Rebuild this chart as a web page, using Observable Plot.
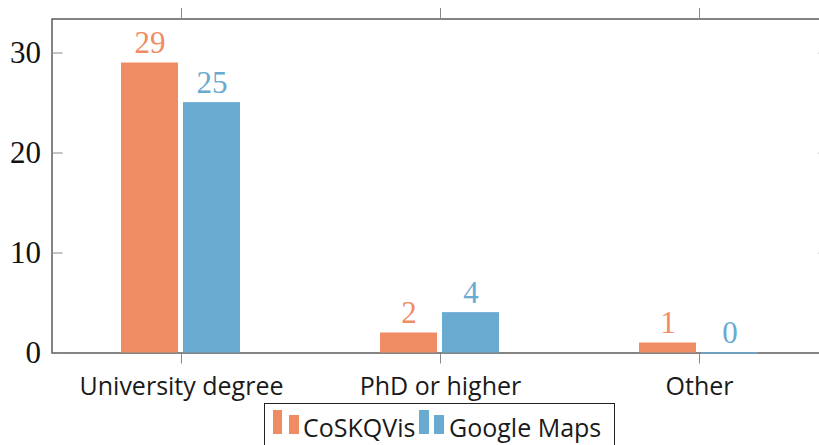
<!DOCTYPE html>
<html>
<head>
<meta charset="utf-8">
<script src="https://cdn.jsdelivr.net/npm/d3@7"></script>
<script src="https://cdn.jsdelivr.net/npm/@observablehq/plot@0.6"></script>
<style>
  html, body { margin: 0; padding: 0; background: #fff; overflow: hidden; }
  #wrap { position: relative; width: 819px; height: 445px; }
  #legend { position: absolute; left: 264px; top: 403px; width: 351px; height: 60px;
            border: 1px solid #222; box-sizing: border-box; background: #fff;
            font-family: "Open Sans", sans-serif; font-size: 25px; color: #1a1a1a; }
  #legend .sw { position: absolute; }
  #legend .lab { position: absolute; top: 8px; line-height: 30px; white-space: nowrap; }
</style>
</head>
<body>
<div id="wrap"></div>
<script>
const categories = ["University degree", "PhD or higher", "Other"];
const seriesNames = ["CoSKQVis", "Google Maps"];
const coskqvis = [29, 2, 1];
const googleMaps = [25, 4, 0];
const yTicks = [0, 10, 20, 30];
const colors = ["#F08C64", "#68AAD0"];

const dataA = categories.map((c, i) => ({category: c, value: coskqvis[i]}));
const dataB = categories.map((c, i) => ({category: c, value: googleMaps[i]}));

const serif = "'Liberation Serif', 'Times New Roman', serif";
const sans = "'Open Sans', sans-serif";

const chart = Plot.plot({
  width: 819,
  height: 400,
  marginLeft: 51.5,
  marginRight: -9.5,
  marginTop: 18.5,
  marginBottom: 47.5,
  style: {background: "transparent", overflow: "visible"},
  x: {type: "band", domain: categories, padding: 0, round: false},
  y: {domain: [0, 33.4], ticks: yTicks},
  marks: [
    Plot.frame({stroke: "#333", strokeWidth: 1.2}),
    Plot.axisX({anchor: "top", tickSize: 11.5, tickFormat: () => "", label: null, stroke: "#888"}),
    Plot.axisX({anchor: "bottom", tickSize: 11, tickPadding: 13, label: null, stroke: "#888",
                fontSize: 25, fontFamily: sans, fill: "#1a1a1a"}),
    Plot.axisY({anchor: "left", ticks: yTicks, tickSize: -11, tickPadding: 22, label: null,
                stroke: "#888", fontSize: 31, fontFamily: serif, fill: "#111"}),
    Plot.axisY({anchor: "right", ticks: yTicks, tickSize: -11, tickFormat: () => "", label: null, stroke: "#888"}),
    Plot.barY(dataA, {x: "category", y: "value", fill: colors[0], insetLeft: 69.5, insetRight: 132.5}),
    Plot.barY(dataB, {x: "category", y: "value", fill: colors[1], insetLeft: 131.5, insetRight: 70.5}),
    Plot.tickY(dataB, {x: "category", y: "value", stroke: colors[1], strokeWidth: 1.5,
                       insetLeft: 131.5, insetRight: 70.5}),
    Plot.text(dataA, {x: "category", y: "value", text: d => String(d.value), dx: -31.5, dy: -10,
                      lineAnchor: "bottom", fill: colors[0], fontSize: 31, fontFamily: serif}),
    Plot.text(dataB, {x: "category", y: "value", text: d => String(d.value), dx: 30.5, dy: -10,
                      lineAnchor: "bottom", fill: colors[1], fontSize: 31, fontFamily: serif})
  ]
});

const wrap = document.getElementById("wrap");
wrap.appendChild(chart);

// legend (HTML, below the SVG area)
const legend = document.createElement("div");
legend.id = "legend";
const items = [
  {name: seriesNames[0], color: colors[0], bars: [[8, 6, 9, 24], [24, 11, 10, 19]], text: 38},
  {name: seriesNames[1], color: colors[1], bars: [[154, 6, 10, 24], [169, 11, 10, 19]], text: 184}
];
for (const it of items) {
  for (const [l, t, w, h] of it.bars) {
    const s = document.createElement("div");
    s.className = "sw";
    Object.assign(s.style, {left: l + "px", top: t + "px", width: w + "px", height: h + "px", background: it.color});
    legend.appendChild(s);
  }
  const lab = document.createElement("div");
  lab.className = "lab";
  lab.style.left = it.text + "px";
  lab.textContent = it.name;
  legend.appendChild(lab);
}
wrap.appendChild(legend);
</script>
</body>
</html>
